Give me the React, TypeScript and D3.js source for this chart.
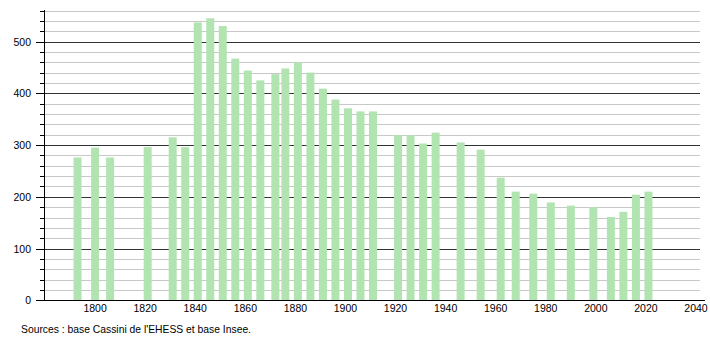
import React from "react";
import * as d3 from "d3";

const years = [1793, 1800, 1806, 1821, 1831, 1836, 1841, 1846, 1851, 1856, 1861, 1866, 1872, 1876, 1881, 1886, 1891, 1896, 1901, 1906, 1911, 1921, 1926, 1931, 1936, 1946, 1954, 1962, 1968, 1975, 1982, 1990, 1999, 2006, 2011, 2016, 2021];
const population = [276, 295, 276, 296, 315, 296, 537, 545, 530, 467, 444, 425, 437, 448, 460, 440, 409, 388, 371, 365, 365, 319, 319, 303, 324, 305, 291, 237, 210, 206, 189, 183, 180, 161, 171, 204, 210];
const xTicks = [1800, 1820, 1840, 1860, 1880, 1900, 1920, 1940, 1960, 1980, 2000, 2020, 2040];
const yMajor = [0, 100, 200, 300, 400, 500];
const source = "Sources : base Cassini de l'EHESS et base Insee.";

export default function App() {
  const W = 710, H = 340;
  const left = 44, plotRight = 700, axisRight = 705;
  const x = d3.scaleLinear().domain([1780, 2040]).range([45, 696]);
  const y = d3.scaleLinear().domain([0, 560]).range([300.3, 10.5]);
  const minor = d3.range(20, 561, 20).filter((v) => v % 100 !== 0);
  const barW = 8;
  const font = "'Liberation Sans', Arial, sans-serif";
  const fs = 10.5;
  return (
    <svg width={W} height={H} style={{ position: "absolute", left: 0, top: 0, background: "#fff" }}>
      {minor.map((v) => (
        <g key={"m" + v}>
          <line x1={left} x2={plotRight} y1={Math.round(y(v)) + 0.5} y2={Math.round(y(v)) + 0.5} stroke="#c8c8c8" strokeWidth={1} />
          <line x1={left - 4} x2={left} y1={Math.round(y(v)) + 0.5} y2={Math.round(y(v)) + 0.5} stroke="#000" strokeWidth={1} />
        </g>
      ))}
      {yMajor.filter((v) => v > 0).map((v) => (
        <line key={"M" + v} x1={left} x2={plotRight} y1={Math.round(y(v)) + 0.5} y2={Math.round(y(v)) + 0.5} stroke="#333" strokeWidth={1} />
      ))}
      {years.map((yr, i) => (
        <rect key={yr} x={x(yr) - barW / 2} y={y(population[i])} width={barW} height={y(0) - y(population[i])} fill="#b2e4b2" />
      ))}
      <line x1={left + 0.5} x2={left + 0.5} y1={10} y2={300.5} stroke="#000" strokeWidth={1} />
      <line x1={left} x2={axisRight} y1={300.5} y2={300.5} stroke="#000" strokeWidth={1} />
      {yMajor.map((v) => (
        <g key={"t" + v}>
          <line x1={left - 8} x2={left} y1={Math.round(y(v)) + 0.5} y2={Math.round(y(v)) + 0.5} stroke="#000" strokeWidth={1} />
          <text x={31} y={y(v) + 4} textAnchor="end" fontFamily={font} fontSize={fs} fill="#000">{v}</text>
        </g>
      ))}
      {xTicks.map((t) => (
        <text key={"x" + t} x={x(t)} y={312} textAnchor="middle" fontFamily={font} fontSize={fs} fill="#000">{t}</text>
      ))}
      <text x={21} y={333} fontFamily={font} fontSize={fs} textLength={230} lengthAdjust="spacingAndGlyphs" fill="#000">{source}</text>
    </svg>
  );
}
